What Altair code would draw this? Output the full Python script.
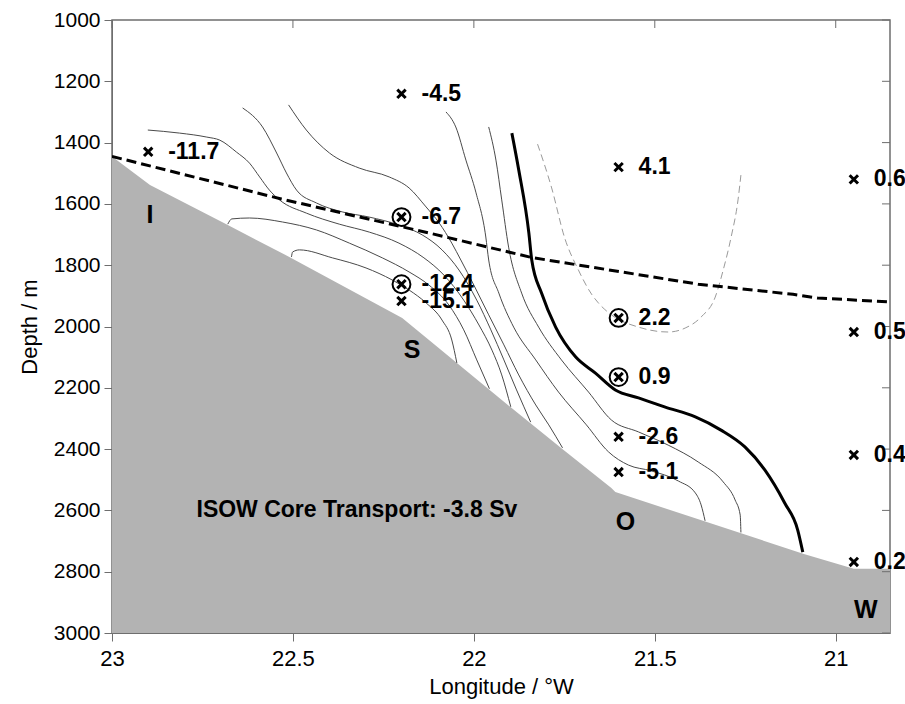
import altair as alt
import pandas as pd

# ---------------- data ----------------
x_ticks = [23, 22.5, 22, 21.5, 21]
y_ticks = [1000, 1200, 1400, 1600, 1800, 2000, 2200, 2400, 2600, 2800, 3000]
lon_min, lon_max = 20.85, 23.0
depth_min, depth_max = 1000, 3000

bathy_lon = [23.0, 22.895, 22.68, 22.51, 22.198, 22.124, 21.876, 21.752, 21.62, 21.609, 21.088, 20.95, 20.85]
bathy_depth = [1445, 1538, 1669, 1773, 1972, 2044, 2285, 2403, 2527, 2540, 2742, 2790, 2790]

intf_lon = [23.0, 22.532, 22.124, 21.84, 21.38, 21.118, 21.05, 20.85]
intf_depth = [1445, 1584, 1695, 1775, 1862, 1895, 1907, 1920]

hook2_lon = [22.504, 22.501, 22.482, 22.391, 22.298, 22.226, 22.179, 22.132, 22.088, 22.061, 22.047]
hook2_depth = [1773, 1757, 1750, 1776, 1809, 1848, 1881, 1923, 1979, 2044, 2119]

hook1_lon = [22.680, 22.669, 22.620, 22.529, 22.435, 22.344, 22.253, 22.179, 22.124, 22.069, 22.028, 21.992, 21.957]
hook1_depth = [1666, 1649, 1646, 1659, 1685, 1728, 1776, 1822, 1865, 1930, 2011, 2109, 2203]

c1_lon = [22.901, 22.813, 22.738, 22.702, 22.656, 22.620, 22.592, 22.565, 22.537, 22.463, 22.372,
          22.289, 22.207, 22.138, 22.083, 22.028, 21.986, 21.950, 21.923, 21.898]
c1_depth = [1359, 1369, 1382, 1392, 1431, 1467, 1512, 1555, 1587, 1630, 1666,
            1692, 1728, 1776, 1832, 1914, 1995, 2077, 2158, 2262]

c2_lon = [22.639, 22.584, 22.545, 22.518, 22.490, 22.435, 22.364, 22.289, 22.207, 22.143, 22.088,
          22.041, 21.992, 21.953, 21.917, 21.882, 21.843]
c2_depth = [1287, 1349, 1434, 1499, 1555, 1597, 1626, 1643, 1669, 1701, 1750,
            1816, 1914, 2011, 2109, 2207, 2312]

c3_lon = [22.512, 22.463, 22.399, 22.317, 22.234, 22.179, 22.132, 22.096, 22.061, 22.036, 22.000,
          21.959, 21.917, 21.876, 21.829, 21.793, 21.755]
c3_depth = [1277, 1359, 1434, 1483, 1512, 1548, 1610, 1662, 1728, 1783, 1865,
            1962, 2060, 2158, 2256, 2321, 2396]

c4_lon = [22.077, 22.050, 22.022, 21.994, 21.967, 21.959, 21.931, 21.890, 21.829, 21.766, 21.689,
          21.628, 21.573, 21.510, 21.435, 21.388, 21.372, 21.361]
c4_depth = [1300, 1349, 1457, 1564, 1708, 1783, 1891, 2002, 2109, 2214, 2321,
            2409, 2452, 2471, 2504, 2543, 2582, 2634]

c5_lon = [21.959, 21.939, 21.923, 21.904, 21.868, 21.821, 21.758, 21.683, 21.620, 21.545, 21.463,
          21.380, 21.311, 21.278, 21.264, 21.262]
c5_depth = [1349, 1457, 1587, 1741, 1891, 2002, 2109, 2214, 2305, 2344, 2387,
            2442, 2507, 2566, 2615, 2672]

zero_lon = [21.895, 21.876, 21.848, 21.840, 21.813, 21.774, 21.719, 21.664, 21.609, 21.545, 21.471,
            21.388, 21.317, 21.251, 21.196, 21.141, 21.105, 21.091]
zero_depth = [1369, 1489, 1695, 1783, 1891, 2002, 2099, 2152, 2207, 2233, 2263,
              2295, 2338, 2393, 2468, 2576, 2664, 2736]

pos_lon = [21.824, 21.785, 21.749, 21.711, 21.675, 21.656, 21.620, 21.545, 21.463, 21.416, 21.372,
           21.333, 21.311, 21.289, 21.270, 21.262]
pos_depth = [1405, 1548, 1711, 1816, 1894, 1923, 1962, 2002, 2018, 2005, 1969,
             1904, 1816, 1708, 1587, 1506]

stn_lon = [22.9, 22.2, 22.2, 22.2, 22.2, 21.6, 21.6, 21.6, 21.6, 21.6, 20.95, 20.95, 20.95, 20.95]
stn_depth = [1430, 1241, 1643, 1862, 1917, 1480, 1972, 2165, 2360, 2475, 1520, 2018, 2419, 2768]
stn_value = ["-11.7", "-4.5", "-6.7", "-12.4", "-15.1", "4.1", "2.2", "0.9", "-2.6", "-5.1",
             "0.6", "0.5", "0.4", "0.2"]
stn_circled = [False, False, True, True, False, False, True, True, False, False,
               False, False, False, False]

region_lon = [22.895, 22.171, 21.581, 20.917]
region_depth = [1636, 2077, 2638, 2925]
region_text = ["I", "S", "O", "W"]

note_lon = [21.88]
note_depth = [2600]
note_text = ["ISOW Core Transport: -3.8 Sv"]

# ---------------- build ----------------
W, H = 778, 613
FONT = "Liberation Sans, Arial, Helvetica, sans-serif"
AXC = "#6e6e6e"


def line_df(name, lons, depths):
    return pd.DataFrame({"line": name, "i": list(range(len(lons))), "lon": lons, "depth": depths})


xscale = alt.Scale(domain=[lon_min, lon_max], reverse=True, nice=False, zero=False)
yscale = alt.Scale(domain=[depth_min, depth_max], reverse=True, nice=False, zero=False)

xaxis = alt.Axis(values=x_ticks, format="~g", grid=False, tickSize=8, labelPadding=7,
                 domainColor=AXC, tickColor=AXC, labelFontSize=22, titleFontSize=22,
                 titleFontWeight="normal", labelFont=FONT, titleFont=FONT, labelColor="black",
                 titleColor="black", titlePadding=7, labelFlush=False)
yaxis = alt.Axis(values=y_ticks, format="d", grid=False, tickSize=8, labelPadding=4,
                 domainColor=AXC, tickColor=AXC, labelFontSize=21, titleFontSize=22,
                 titleFontWeight="normal", labelFont=FONT, titleFont=FONT, labelColor="black",
                 titleColor="black", titlePadding=12, labelFlush=False)


def X():
    return alt.X("lon:Q", scale=xscale, axis=xaxis, title="Longitude / °W")


def Y():
    return alt.Y("depth:Q", scale=yscale, axis=yaxis, title="Depth / m")


bathy = pd.DataFrame({"lon": bathy_lon, "depth": bathy_depth})
bathy["bottom"] = depth_max
area = alt.Chart(bathy).mark_area(color="#b3b3b3", clip=True, opacity=1).encode(
    x=X(), y=Y(), y2="bottom:Q")

thin = pd.concat([
    line_df("hook2", hook2_lon, hook2_depth),
    line_df("hook1", hook1_lon, hook1_depth),
    line_df("c1", c1_lon, c1_depth),
    line_df("c2", c2_lon, c2_depth),
    line_df("c3", c3_lon, c3_depth),
    line_df("c4", c4_lon, c4_depth),
    line_df("c5", c5_lon, c5_depth),
])
thin_lines = alt.Chart(thin).mark_line(color="#4a4a4a", strokeWidth=1, clip=True,
                                       interpolate="monotone").encode(
    x=X(), y=Y(), detail="line:N", order="i:Q")

zero_line = alt.Chart(line_df("zero", zero_lon, zero_depth)).mark_line(
    color="black", strokeWidth=3, clip=True, interpolate="monotone").encode(
    x=X(), y=Y(), order="i:Q")

pos_line = alt.Chart(line_df("pos", pos_lon, pos_depth)).mark_line(
    color="#9a9a9a", strokeWidth=1, strokeDash=[7, 4], clip=True, interpolate="monotone").encode(
    x=X(), y=Y(), order="i:Q")

intf_line = alt.Chart(line_df("intf", intf_lon, intf_depth)).mark_line(
    color="black", strokeWidth=3, strokeDash=[10, 5], clip=True).encode(
    x=X(), y=Y(), order="i:Q")

stn = pd.DataFrame({"lon": stn_lon, "depth": stn_depth, "value": stn_value, "circled": stn_circled})
crosses = alt.Chart(stn).mark_point(shape="M-1,-1L1,1M-1,1L1,-1", size=70, filled=False,
                                    stroke="black", strokeWidth=3, opacity=1).encode(
    x=X(), y=Y())
circles = alt.Chart(stn).transform_filter("datum.circled").mark_point(
    shape="circle", size=320, filled=False, stroke="black", strokeWidth=2, opacity=1).encode(
    x=X(), y=Y())
stn_labels = alt.Chart(stn).mark_text(align="left", baseline="middle", dx=20, fontSize=23,
                                      fontWeight="bold", font=FONT, color="black").encode(
    x=X(), y=Y(), text="value:N")

regions = pd.DataFrame({"lon": region_lon, "depth": region_depth, "label": region_text})
region_labels = alt.Chart(regions).mark_text(align="center", baseline="middle", fontSize=25,
                                             fontWeight="bold", font=FONT, color="black").encode(
    x=X(), y=Y(), text="label:N")

note = pd.DataFrame({"lon": note_lon, "depth": note_depth, "label": note_text})
note_label = alt.Chart(note).mark_text(align="right", baseline="middle", fontSize=23,
                                       fontWeight="bold", font=FONT, color="black").encode(
    x=X(), y=Y(), text="label:N")

top_ticks = alt.Chart(pd.DataFrame({"lon": x_ticks})).mark_rule(color=AXC, strokeWidth=1).encode(
    x=X(), y=alt.value(0), y2=alt.value(8))
right_ticks = alt.Chart(pd.DataFrame({"depth": y_ticks})).mark_rule(color=AXC, strokeWidth=1).encode(
    y=Y(), x=alt.value(W), x2=alt.value(W - 8))

chart = alt.layer(
    area, thin_lines, pos_line, zero_line, intf_line, top_ticks, right_ticks,
    circles, crosses, stn_labels, region_labels, note_label
).properties(
    width=W, height=H,
    autosize=alt.AutoSizeParams(type="none"),
    padding={"left": 112, "top": 20, "right": 15, "bottom": 71},
    background="white",
).configure_view(stroke=AXC, strokeWidth=1.5)

chart.save("out.html", embed_options={"renderer": "svg", "actions": False})
